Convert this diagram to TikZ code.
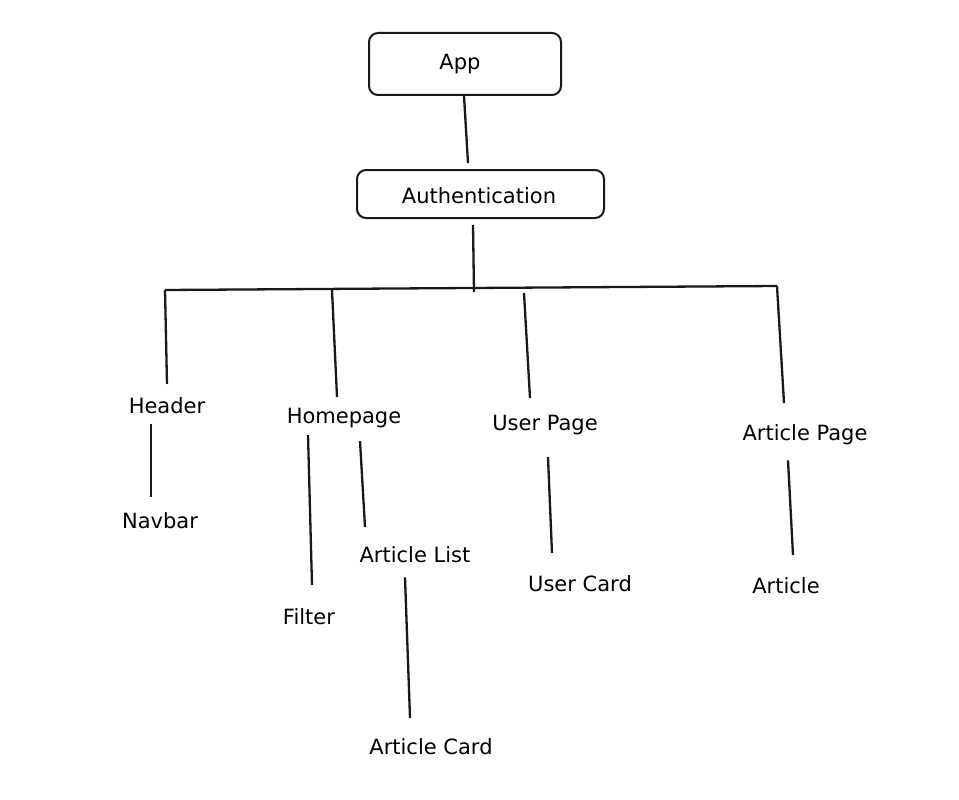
\documentclass[tikz,border=0pt]{standalone}
\usepackage{fontspec}
\setmainfont{DejaVu Sans}
\usetikzlibrary{calc}
\begin{document}
\begin{tikzpicture}[x=1pt,y=-1pt,
  lbl/.style={font=\fontsize{21}{24}\selectfont, inner sep=0pt, text=black},
  box/.style={draw=black!90, rounded corners=9pt, line width=2pt},
  link/.style={line width=2.3pt, draw=black!90}]
\useasboundingbox[fill=white] (0,0) rectangle (959,800);
% boxes
\node[box, minimum width=192pt, minimum height=62pt] (app) at (465,64) {};
\node[lbl] (apptxt) at (460,64) {App};
\node[box, minimum width=247pt, minimum height=48pt] (auth) at (480.5,194) {};
\node[lbl] (authtxt) at (479,196) {Authentication};
% labels
\node[lbl] (header) at (167,406) {Header};
\node[lbl] (home) at (344,418) {Homepage};
\node[lbl] (user) at (545,425) {User Page};
\node[lbl] (artpage) at (805,435) {Article Page};
\node[lbl] (navbar) at (160,521) {Navbar};
\node[lbl] (filter) at (309,617) {Filter};
\node[lbl] (artlist) at (415,555) {Article List};
\node[lbl] (artcard) at (431,747) {Article Card};
\node[lbl] (usercard) at (580,584) {User Card};
\node[lbl] (article) at (786,586) {Article};
% bus coordinates
\coordinate (busL) at (165,290);
\coordinate (busR) at (777,286);
% connectors
\draw[link] (app.south -| 464,0) -- (468,163);
\draw[link] (auth.south -| 473,0) ++(0,6) -- (474,292);
\draw[link] (busL) -- (busR);
\draw[link] (busL) -- (167,384);
\draw[link] (332,290) -- (337,397);
\draw[link] (524,293) -- (530,398);
\draw[link] (busR) -- (784,403);
\draw[link] (header.south -| 151,0) ++(0,10) -- (151,497);
\draw[link] (home.south -| 308,0) ++(0,7) -- (312,585);
\draw[link] (home.south -| 360,0) ++(0,13) -- (365,527);
\draw[link] (artlist.south -| 405,0) ++(0,14) -- (410,718);
\draw[link] (user.south -| 548,0) ++(0,22) -- (552,553);
\draw[link] (artpage.south -| 788,0) ++(0,15) -- (793,555);
\end{tikzpicture}
\end{document}
